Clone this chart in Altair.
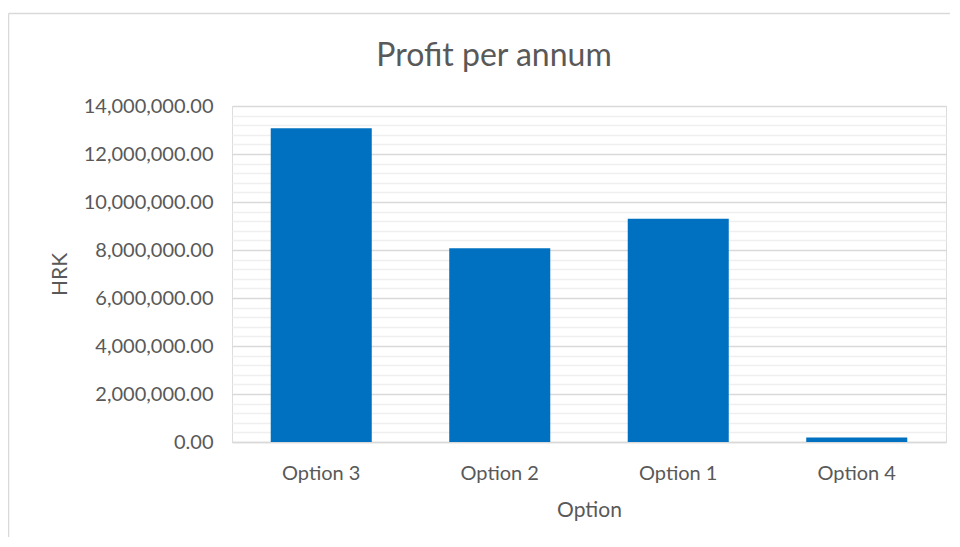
import altair as alt
import pandas as pd

options = ["Option 3", "Option 2", "Option 1", "Option 4"]
profit = [13070000, 8070000, 9300000, 190000]
minor_ticks = [i * 400000 for i in range(36)]

df = pd.DataFrame({"Option": options, "HRK": profit})

FONT = "Lato"
TXT = "#595959"
W, H = 714, 336

bars = alt.Chart(df).mark_bar(color="#0070C0").encode(
    x=alt.X(
        "Option:N",
        sort=options,
        scale=alt.Scale(paddingInner=0.434, paddingOuter=0.217),
        axis=alt.Axis(
            labelAngle=0,
            labelFont=FONT,
            labelFontSize=20,
            labelColor=TXT,
            labelPadding=21,
            ticks=False,
            domainColor="#d9d9d9",
            domainWidth=1.5,
            title="Option",
            titleFont=FONT,
            titleFontSize=21,
            titleFontWeight="normal",
            titleColor=TXT,
            titleX=W / 2,
            titleY=68,
            titleAlign="center",
            titleBaseline="middle",
        ),
    ),
    y=alt.Y(
        "HRK:Q",
        scale=alt.Scale(domain=[0, 14000000], nice=False),
        axis=alt.Axis(
            values=minor_ticks,
            labelExpr="datum.value % 2000000 === 0 ? format(datum.value, ',.2f') : ''",
            labelOverlap=False,
            labelFlush=False,
            labelFont=FONT,
            labelFontSize=20,
            labelColor=TXT,
            labelPadding=19,
            ticks=False,
            domain=False,
            gridColor={"expr": "datum.value % 2000000 === 0 ? '#d9d9d9' : '#efefef'"},
            gridWidth=1.5,
            title="HRK",
            titleFont=FONT,
            titleFontSize=21,
            titleFontWeight="normal",
            titleColor=TXT,
            titleX=-172,
            titleY=H / 2,
            titleAngle=-90,
            titleAlign="center",
            titleBaseline="middle",
        ),
    ),
)

one = alt.Data(values=[{}])
border_top = alt.Chart(one).mark_rule(stroke="#d9d9d9", strokeWidth=1.5).encode(
    x=alt.value(-223.5), x2=alt.value(W + 4), y=alt.value(-92.5)
)
border_left = alt.Chart(one).mark_rule(stroke="#d9d9d9", strokeWidth=1.5).encode(
    x=alt.value(-223.5), y=alt.value(-92.5), y2=alt.value(H + 95)
)

chart = alt.layer(border_top, border_left, bars).properties(
    width=W,
    height=H,
    title=alt.TitleParams(
        "Profit per annum",
        font=FONT,
        fontSize=32,
        fontWeight="normal",
        color=TXT,
        anchor="middle",
        frame="group",
        dx=-95,
        offset=-60,
    ),
    autosize=alt.AutoSizeParams(type="none"),
    padding={"left": 224, "top": 98, "right": 4, "bottom": 95},
).configure_view(stroke=None).configure(background="white")

chart.save("out.html", embed_options={"renderer": "svg", "actions": False})
